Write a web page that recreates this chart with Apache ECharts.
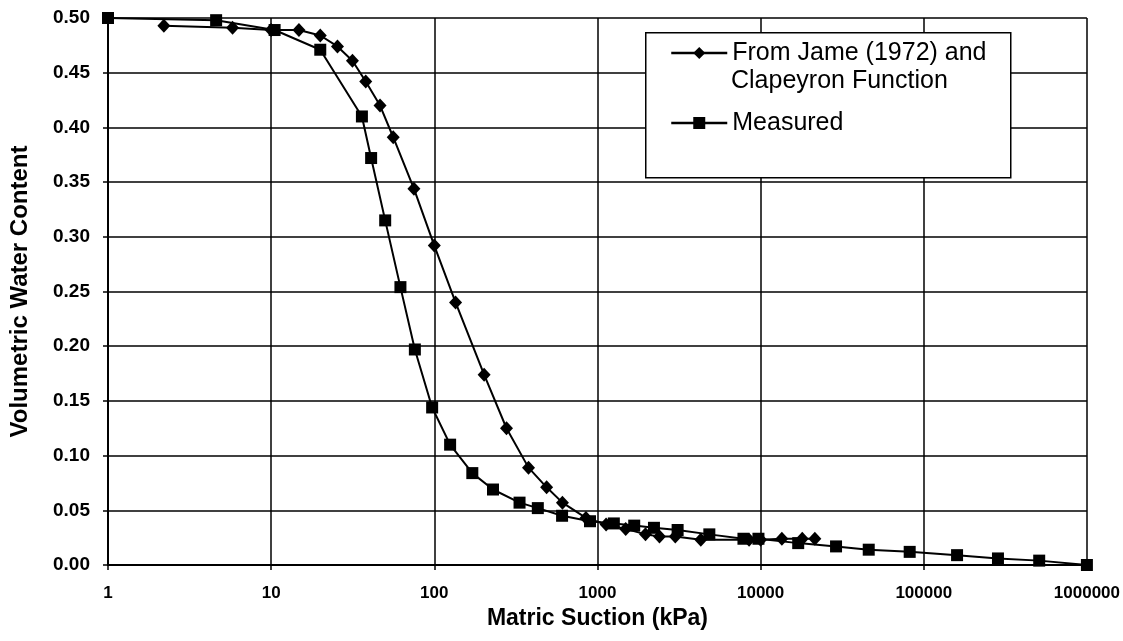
<!DOCTYPE html>
<html lang="en">
<head>
    <meta charset="UTF-8">
    <title>Volumetric Water Content vs Matric Suction</title>
    <style>
        html, body { margin: 0; padding: 0; background: #fff; }
        #chart { width: 1123px; height: 641px; }
    </style>
</head>
<body>
    <div id="chart"></div>
    <script src="https://cdn.jsdelivr.net/npm/echarts@6/dist/echarts.min.js"></script>
    <script>
        // From Jame (1972) and Clapeyron Function
        var jameSuction = [2.2, 5.8, 10, 14.8, 20, 25.5, 31.5, 38, 46.5, 56, 75, 100, 135, 202, 277, 378, 488, 610, 850,
            1130, 1490, 1970, 2400, 3000, 4300, 8500, 10000, 13500, 18000, 21500];
        var jameTheta = [0.493, 0.491, 0.489, 0.489, 0.484, 0.474, 0.461, 0.442, 0.420, 0.391, 0.344, 0.292, 0.240, 0.174, 0.125, 0.089, 0.071, 0.057, 0.043,
            0.037, 0.033, 0.028, 0.026, 0.026, 0.023, 0.023, 0.023, 0.024, 0.024, 0.024];

        // Measured
        var measSuction = [1, 4.6, 10.5, 20, 36, 41, 50, 62, 76, 97, 125, 171, 229, 333, 431, 607, 900,
            1260, 1680, 2220, 3100, 4850, 7850, 9700, 17000, 29000, 46000, 82000, 160000, 285000, 510000, 1000000];
        var measTheta = [0.500, 0.498, 0.489, 0.471, 0.410, 0.372, 0.315, 0.254, 0.197, 0.144, 0.110, 0.084, 0.069, 0.057, 0.052, 0.045, 0.040,
            0.038, 0.036, 0.034, 0.032, 0.028, 0.024, 0.024, 0.020, 0.017, 0.014, 0.012, 0.009, 0.006, 0.004, 0.000];

        var xTicks = [1, 10, 100, 1000, 10000, 100000, 1000000];

        function pairs(xs, ys) {
            var res = [];
            for (var i = 0; i < xs.length; i++) {
                res.push([xs[i], ys[i]]);
            }
            return res;
        }

        var font = '"Liberation Sans", Arial, sans-serif';

        var option = {
            backgroundColor: '#fff',
            animation: false,
            grid: { left: 107, right: 30, top: 18, bottom: 76 },
            xAxis: {
                type: 'log',
                logBase: 10,
                min: xTicks[0],
                max: xTicks[xTicks.length - 1],
                name: 'Matric Suction (kPa)',
                nameLocation: 'middle',
                nameGap: 39,
                nameTextStyle: { color: '#000', fontFamily: font, fontWeight: 'bold', fontSize: 23 },
                axisLine: { lineStyle: { color: '#000', width: 2 } },
                axisTick: { show: true, length: 5, lineStyle: { color: '#000', width: 1.5 } },
                axisLabel: {
                    color: '#000', fontFamily: font, fontWeight: 'bold', fontSize: 17, margin: 20,
                    formatter: function (v) { return String(Math.round(v)); }
                },
                splitLine: { show: true, lineStyle: { color: '#000', width: 1.5 } }
            },
            yAxis: {
                type: 'value',
                min: 0,
                max: 0.5,
                interval: 0.05,
                name: 'Volumetric Water Content',
                nameLocation: 'middle',
                nameGap: 76,
                nameTextStyle: { color: '#000', fontFamily: font, fontWeight: 'bold', fontSize: 24 },
                axisLine: { show: true, lineStyle: { color: '#000', width: 2 } },
                axisTick: { show: true, length: 5, lineStyle: { color: '#000', width: 1.5 } },
                axisLabel: {
                    color: '#000', fontFamily: font, fontWeight: 'bold', fontSize: 19, margin: 18,
                    formatter: function (v) { return v.toFixed(2); }
                },
                splitLine: { show: true, lineStyle: { color: '#000', width: 1.5 } }
            },
            legend: {
                orient: 'vertical',
                left: 670,
                top: 39,
                padding: 0,
                z: 20,
                itemWidth: 56,
                itemHeight: 15,
                itemGap: 42,
                lineStyle: { width: 2.5 },
                textStyle: { color: '#000', fontFamily: font, fontSize: 25, lineHeight: 28 },
                data: ['From Jame (1972) and', 'Measured']
            },
            graphic: [{
                type: 'rect',
                left: 645,
                top: 32,
                shape: { width: 365, height: 145 },
                style: { fill: '#fff', stroke: '#000', lineWidth: 1.5 },
                z: 5
            }, {
                type: 'text',
                left: 731,
                top: 69,
                style: { text: 'Clapeyron Function', fill: '#000', font: '25px ' + font },
                z: 30
            }],
            series: [{
                name: 'From Jame (1972) and',
                type: 'line',
                data: pairs(jameSuction, jameTheta),
                symbol: 'diamond',
                symbolSize: [13, 14],
                itemStyle: { color: '#000' },
                lineStyle: { color: '#000', width: 2 },
                z: 3
            }, {
                name: 'Measured',
                type: 'line',
                data: pairs(measSuction, measTheta),
                symbol: 'rect',
                symbolSize: 12,
                itemStyle: { color: '#000' },
                lineStyle: { color: '#000', width: 2 },
                z: 3
            }]
        };

        var myChart = echarts.init(document.getElementById('chart'));
        myChart.setOption(option);
    </script>
</body>
</html>
